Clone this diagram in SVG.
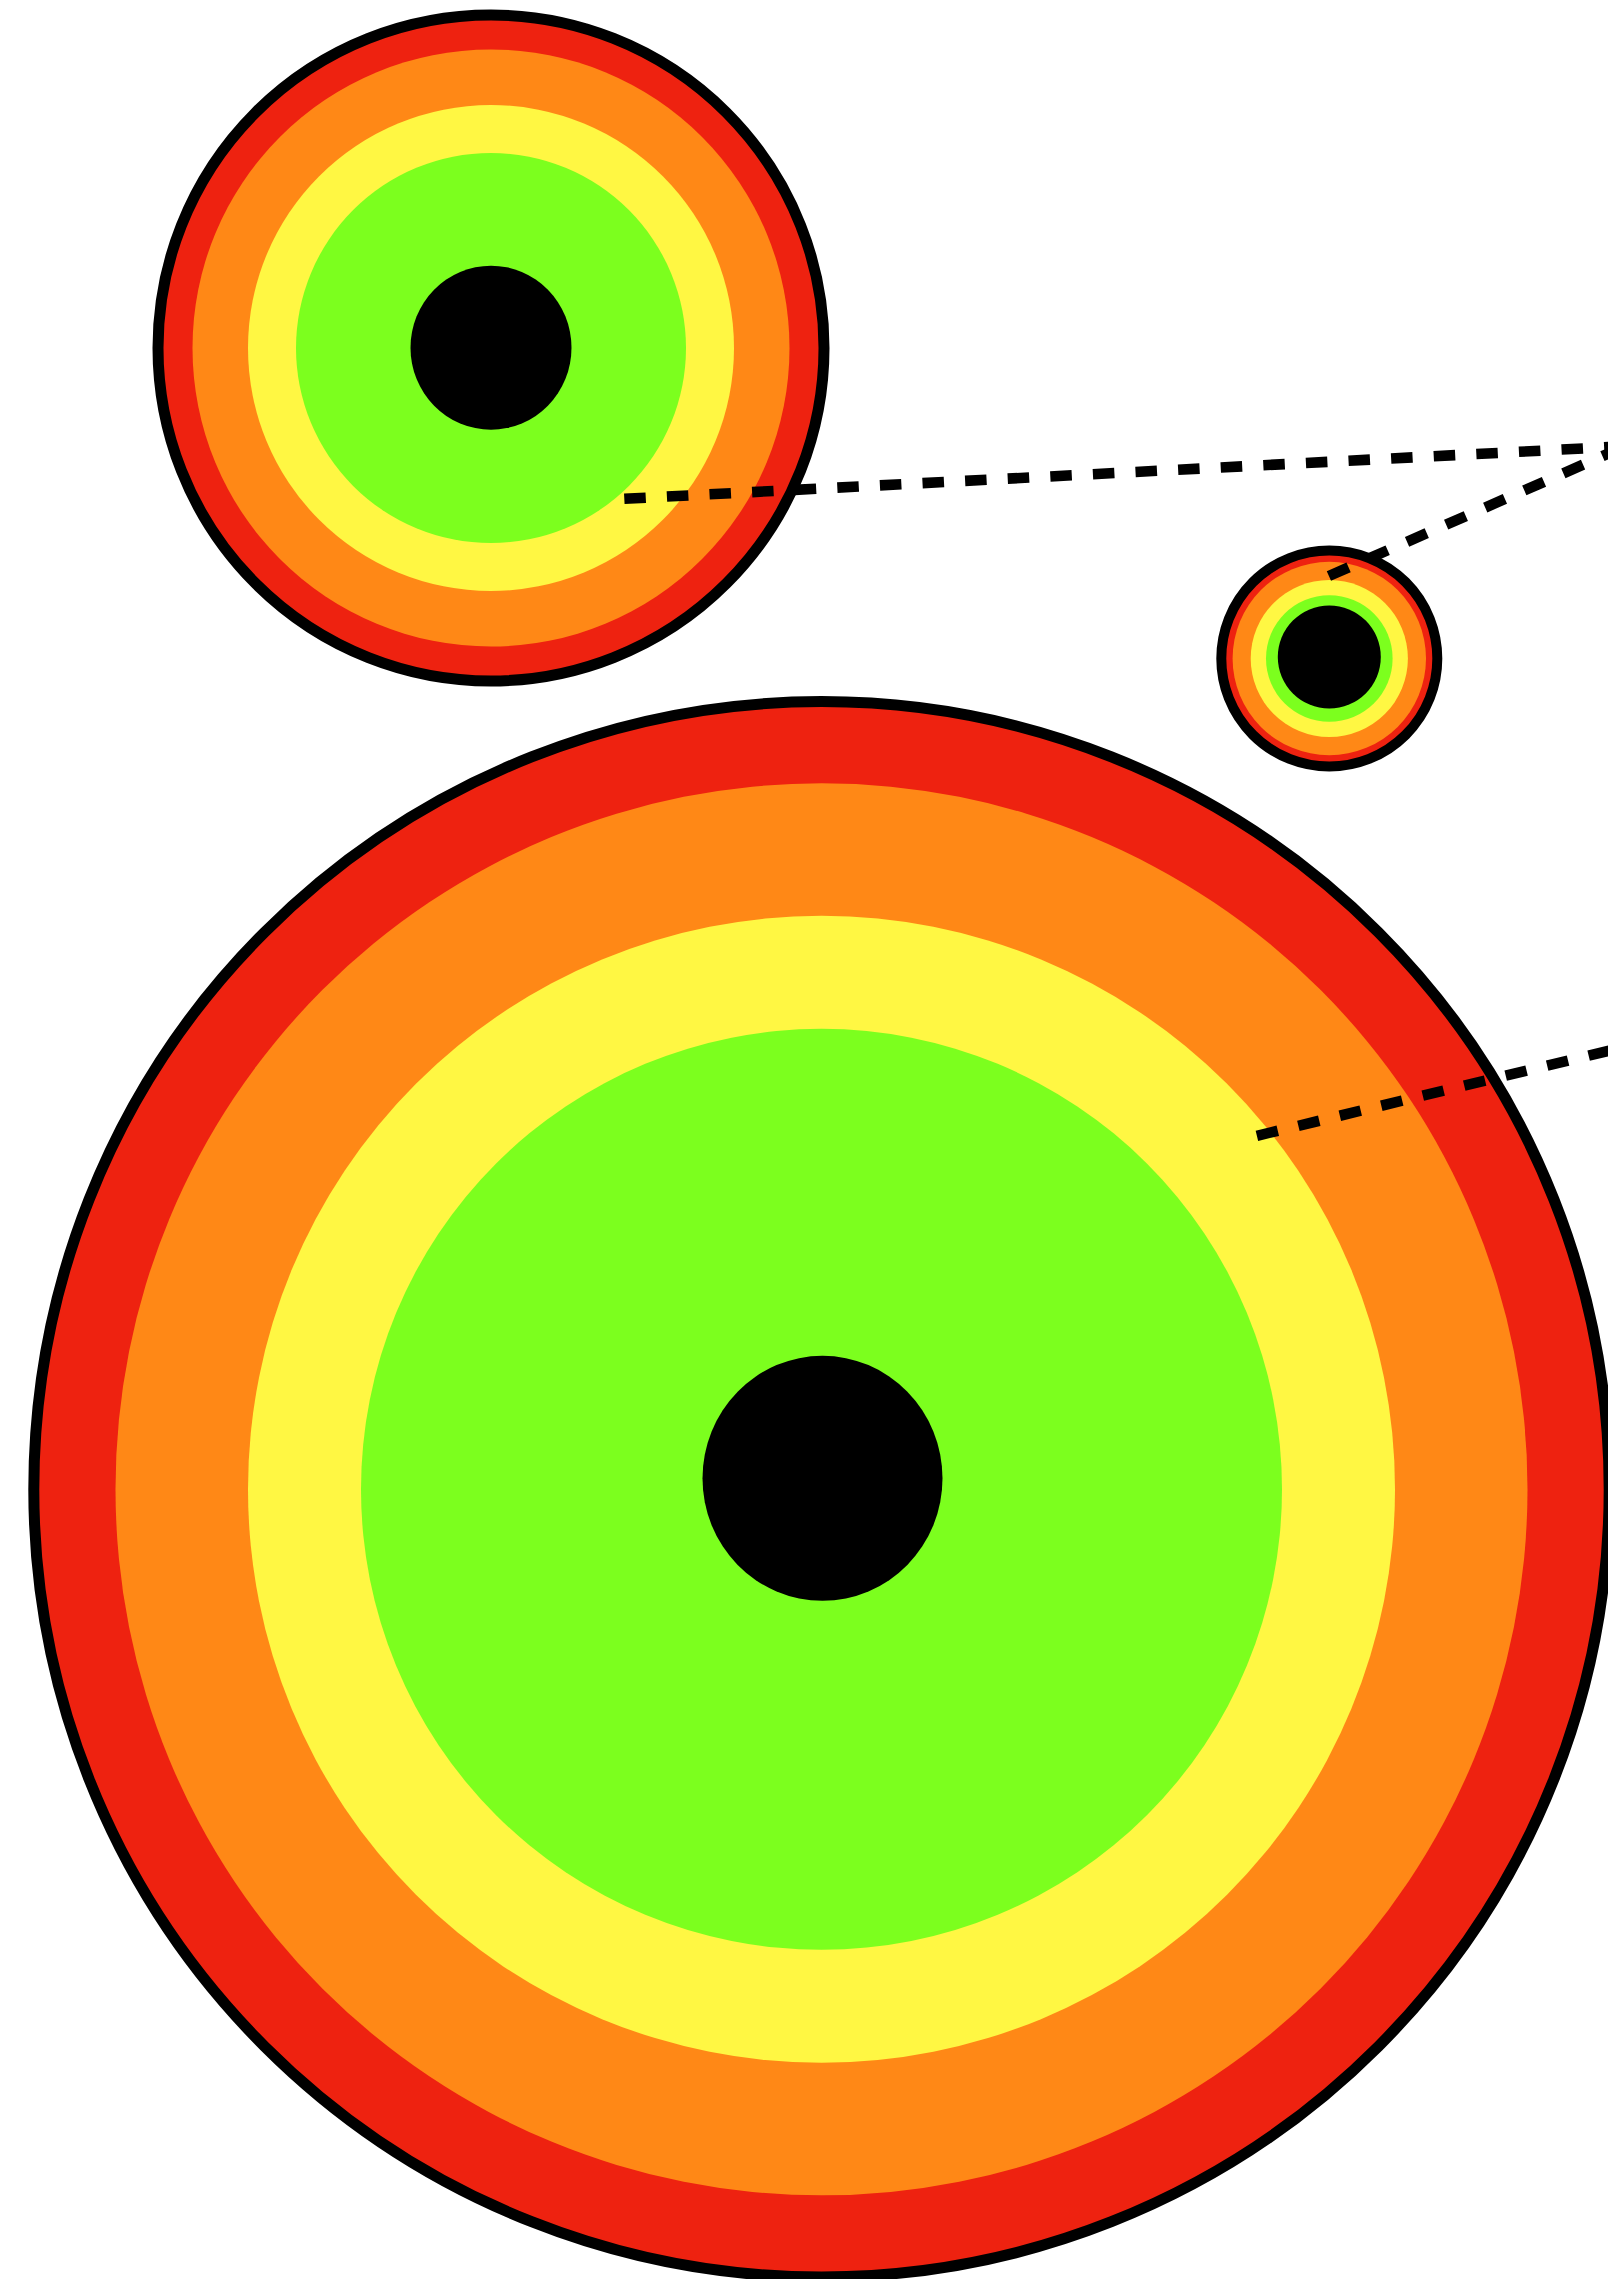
<svg xmlns="http://www.w3.org/2000/svg" width="1608" height="2279" viewBox="0 0 1608 2279">
<style>
.rim{fill:#ee2210;stroke:#000;stroke-width:11}
.o{fill:#ff8816}
.y{fill:#fff743}
.g{fill:#7cff1e}
.k{fill:#000}
.dash{fill:none;stroke:#000;stroke-width:10.6;stroke-dasharray:21.5 21.16}
</style>
<rect width="1608" height="2279" fill="#fff"/>
<g id="node-top-left">
<circle class="rim" cx="491" cy="348" r="333"/>
<circle class="o" cx="491" cy="348" r="298.5"/>
<circle class="y" cx="491" cy="348" r="243"/>
<circle class="g" cx="491" cy="348" r="195"/>
<ellipse class="k" cx="491" cy="347.7" rx="80.5" ry="82"/>
</g>
<g id="node-small">
<circle class="rim" cx="1329.3" cy="658.5" r="108" style="stroke-width:10"/>
<circle class="o" cx="1329.3" cy="658.5" r="96.7"/>
<circle class="y" cx="1329.3" cy="658.5" r="78.6"/>
<circle class="g" cx="1329.3" cy="658.5" r="63.3"/>
<circle class="k" cx="1329.3" cy="657" r="51.5"/>
</g>
<g id="node-big">
<circle class="rim" cx="821.5" cy="1489.3" r="787.7"/>
<circle class="o" cx="821.5" cy="1489.3" r="706"/>
<circle class="y" cx="821.5" cy="1489.3" r="573.5"/>
<circle class="g" cx="821.5" cy="1489.3" r="460.5"/>
<ellipse class="k" cx="822.5" cy="1478.3" rx="120" ry="122.5"/>
</g>
<g id="connectors">
<path class="dash" d="M624.3 498.8 L1700 442.3"/>
<path class="dash" d="M1328.9 576 L1700 413.5"/>
<path class="dash" d="M1256.9 1135.8 L1700 1028.7"/>
</g>
</svg>
